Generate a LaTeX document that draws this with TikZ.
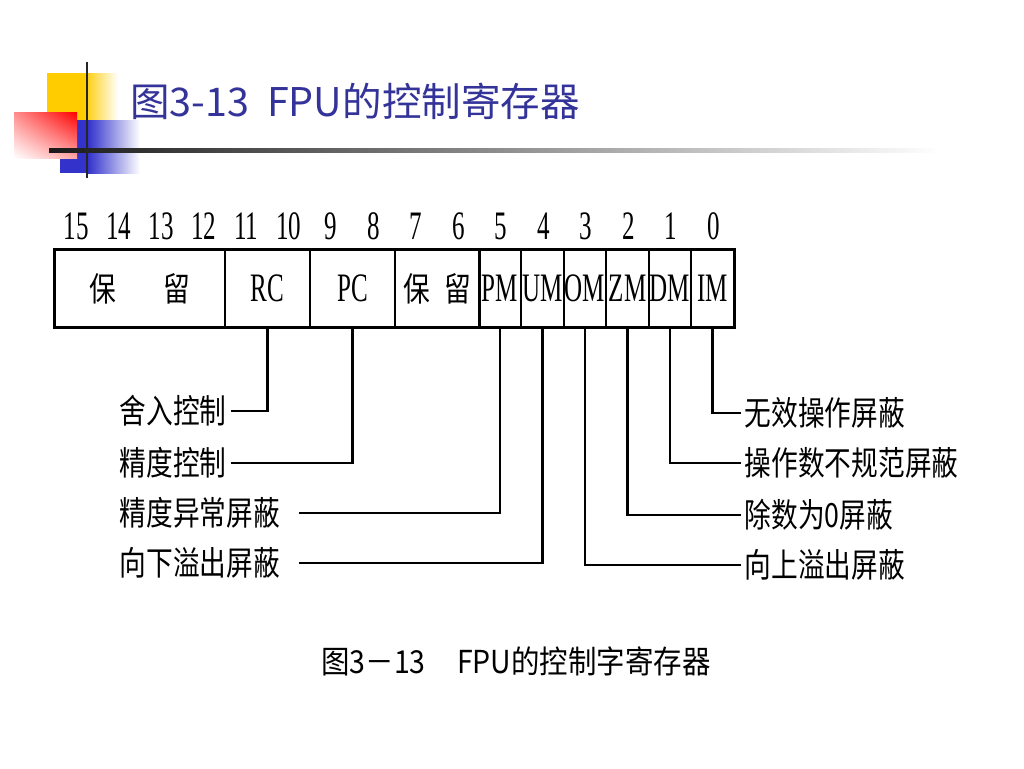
\documentclass[tikz,border=0pt]{standalone}
\usepackage{fontspec}
\setmainfont{Liberation Serif}
\newfontfamily\cjk{Noto Sans CJK SC}
\newfontfamily\cjkn[FakeStretch=0.8]{Noto Sans CJK SC}
\newfontfamily\cjkc[FakeStretch=0.9]{Noto Sans CJK SC}
\newfontfamily\regf[FakeStretch=0.62]{Liberation Serif}
\usepackage{tikz}
\usetikzlibrary{positioning,shadings}
\definecolor{titleblue}{RGB}{51,51,153}
\definecolor{decoyellow}{RGB}{255,204,0}
\definecolor{decoblue}{RGB}{51,51,204}
\tikzset{
  cell/.style={draw, line width=1pt, minimum height=1.54cm, inner sep=0pt,
    font=\regf\fontsize{23}{23}\selectfont},
  bitnum/.style={inner sep=0pt, font=\regf\fontsize{23}{23}\selectfont},
  lbl/.style={inner sep=2pt, font=\cjkn\fontsize{19}{19}\selectfont},
  conn/.style={line width=1.2pt},
  elbow/.style={to path={|- (\tikztotarget)}}
}

\begin{document}
\begin{tikzpicture}[x=0.02cm, y=-0.02cm]
    \useasboundingbox (0,0) rectangle (1024,768);
    %decoration
    \fill[decoyellow] (47,73) rectangle (84,121);
    \shade[left color=decoyellow, right color=white] (84,73) rectangle (118,121);
    \fill[decoblue] (60,120) rectangle (88,173);
    \shade[left color=decoblue, right color=white] (88,120) rectangle (140,173);
    \shade[upper left=red!45!white, upper right=red, lower left=white,
      lower right=red!35!white] (14,112) rectangle (77,158);
    \shade[left color=black!90, right color=white] (49,148) rectangle (940,152);
    \draw[line width=1.6pt, black!85] (87,62) -- (87,178);
    %title
    \node[anchor=west, inner sep=0pt, text=titleblue, font=\cjk\fontsize{22.5}{22.5}\selectfont]
      (title) at (130,101) {图3-13\ \ FPU的控制寄存器};
    %bit numbers
    \foreach \b in {0,...,15}
      \node[bitnum] (b\b) at ({76.25+(15-\b)*42.5},226) {\b};
    %cells
    \node[cell, minimum width=3.4cm] (res1) at (140,288.5)
      {\cjkn\fontsize{19}{19}\selectfont 保\hspace{27pt}留};
    \node[cell, minimum width=1.7cm] (rc) at (267.5,288.5) {RC};
    \node[cell, minimum width=1.7cm] (pc) at (352.5,288.5) {PC};
    \node[cell, minimum width=1.7cm] (res2) at (437.5,288.5)
      {\cjkn\fontsize{19}{19}\selectfont 保\hspace{8pt}留};
    \node[cell, minimum width=0.85cm] (pm) at (500,288.5) {PM};
    \node[cell, minimum width=0.85cm] (um) at (542.5,288.5) {UM};
    \node[cell, minimum width=0.85cm] (om) at (585,288.5) {OM};
    \node[cell, minimum width=0.85cm] (zm) at (627.5,288.5) {ZM};
    \node[cell, minimum width=0.85cm] (dm) at (670,288.5) {DM};
    \node[cell, minimum width=0.85cm] (im) at (712.5,288.5) {IM};
    \draw[line width=1.3pt] (res1.north west) rectangle (im.south east);
    %labels
    \node[lbl, anchor=west] (rcl) at (116,411) {舍入控制};
    \node[lbl, anchor=west] (pcl) at (116,463) {精度控制};
    \node[lbl, anchor=west] (pml) at (116,513) {精度异常屏蔽};
    \node[lbl, anchor=west] (uml) at (116,563) {向下溢出屏蔽};
    \node[lbl, anchor=west] (iml) at (741,413) {无效操作屏蔽};
    \node[lbl, anchor=west] (dml) at (741,463) {操作数不规范屏蔽};
    \node[lbl, anchor=west] (zml) at (741,515) {除数为0屏蔽};
    \node[lbl, anchor=west] (oml) at (741,565) {向上溢出屏蔽};
    %edges
    \path[conn, draw]
     (rc.south) edge[elbow] (rcl.east)
     (pc.south) edge[elbow] (pcl.east)
     (pm.south) edge[elbow] ([xshift=0.3cm]pml.east)
     (um.south) edge[elbow] ([xshift=0.3cm]uml.east)
     (im.south) edge[elbow] (iml.west)
     (dm.south) edge[elbow] (dml.west)
     (zm.south) edge[elbow] (zml.west)
     (om.south) edge[elbow] (oml.west);
    %caption
    \node[inner sep=0pt, font=\cjkc\fontsize{18}{18}\selectfont] (cap) at (516,661)
      {图3－13\quad FPU的控制字寄存器};
\end{tikzpicture}
\end{document}
